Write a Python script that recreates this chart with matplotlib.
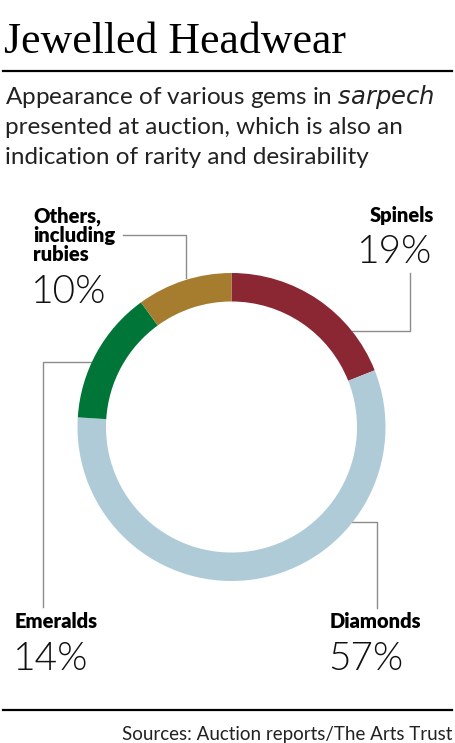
import matplotlib
matplotlib.use("Agg")
import matplotlib.pyplot as plt

# gem shares in sarpech at auction (clockwise from top)
gems = ["Spinels", "Diamonds", "Emeralds", "Others,\nincluding\nrubies"]
shares = [19, 57, 14, 10]
colors = ["#8b2633", "#afcbd8", "#007538", "#a67c2e"]

W, H = 455, 743
fig = plt.figure(figsize=(W / 100, H / 100), dpi=100)
fig.patch.set_facecolor("white")

# overlay in pixel coordinates for text and leader lines
ov = fig.add_axes([0, 0, 1, 1])
ov.set_xlim(0, W)
ov.set_ylim(H, 0)
ov.axis("off")

# donut, centre (231.5, 427) radius 154 px
cx, cy, r = 231.5, 427, 154
ax = fig.add_axes([(cx - r) / W, (H - cy - r) / H, 2 * r / W, 2 * r / H])
ax.pie(shares, colors=colors, startangle=90, counterclock=False, radius=1,
       wedgeprops=dict(width=0.185, edgecolor="none", linewidth=0))
ax.set_xlim(-1, 1)
ax.set_ylim(-1, 1)
ax.set_aspect("equal")
ax.axis("off")

# title and subtitle
ov.text(4, 53, "Jewelled Headwear", fontsize=31.5, family="Liberation Serif",
        color="black", va="baseline", ha="left")
ov.plot([3, 452], [71, 71], color="black", lw=1.6)
sub = ["Appearance of various gems in $\\it{sarpech}$",
       "presented at auction, which is also an",
       "indication of rarity and desirability"]
for i, line in enumerate(sub):
    ov.text(5, 104 + i * 30, line, fontsize=17.5, family="Lato", color="#222222",
            va="baseline", ha="left")

lc = "#8c8c8c"
lab = dict(family="Lato", fontweight="heavy", fontsize=14.5, color="black", va="baseline")
pct = dict(family="Lato", fontweight=300, fontsize=28, color="#111111", va="baseline")

# Others
ov.text(33, 222, "Others,", ha="left", **lab)
ov.text(33, 242, "including", ha="left", **lab)
ov.text(33, 261, "rubies", ha="left", **lab)
ov.text(31, 303, f"{shares[3]}%", ha="left", **pct)
ov.plot([123, 186, 186], [235, 235, 278], color=lc, lw=1)

# Spinels
ov.text(434, 222, gems[0], ha="right", **lab)
ov.text(432, 263, f"{shares[0]}%", ha="right", **pct)
ov.plot([410, 410, 352], [273, 331, 331], color=lc, lw=1)

# Emeralds
ov.text(15, 628, gems[2], ha="left", **lab)
ov.text(13, 670, f"{shares[2]}%", ha="left", **pct)
ov.plot([92, 43, 43], [362, 362, 607], color=lc, lw=1)

# Diamonds
ov.text(330, 628, gems[1], ha="left", **lab)
ov.text(328, 670, f"{shares[1]}%", ha="left", **pct)
ov.plot([352, 377, 377], [522, 522, 608], color=lc, lw=1)

# footer
ov.plot([3, 452], [710, 710], color="black", lw=1.6)
ov.text(452, 740, "Sources: Auction reports/The Arts Trust", fontsize=13.5,
        family="Lato", color="#222222", ha="right", va="baseline")

fig.savefig("out.png", dpi=100, facecolor="white")
